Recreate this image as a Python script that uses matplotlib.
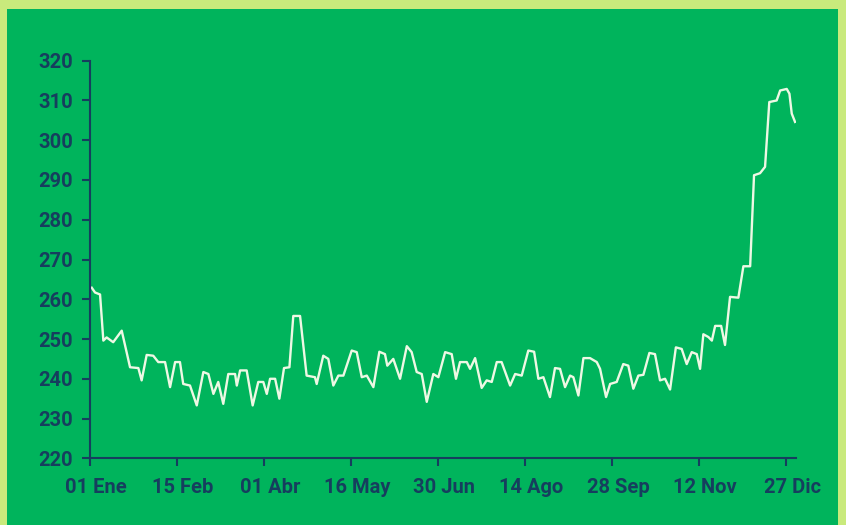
import matplotlib
matplotlib.use("Agg")
import matplotlib.pyplot as plt
import matplotlib.transforms as mtransforms
from matplotlib.patches import Rectangle

# Day of year (0 = 01 Ene) and value
days = [0.9, 2.6, 5.2, 6.9, 8.6, 12.0, 16.4, 20.7, 25.0, 26.7, 29.3, 32.7, 35.3, 38.8,
        41.4, 44.0, 46.5, 48.2, 51.7, 55.2, 58.6, 61.2, 63.8, 66.3, 68.9, 71.5, 75.0,
        75.9, 77.6, 81.0, 84.1, 87.0, 89.6, 91.4, 93.1, 95.7, 97.9, 100.3, 103.1, 105.1,
        108.6, 112.0, 116.3, 117.2, 120.6, 123.2, 125.8, 128.4, 131.0, 135.3, 137.9,
        140.5, 143.1, 146.5, 149.6, 152.5, 153.7, 156.8, 160.3, 163.8, 166.3, 168.9,
        171.5, 174.1, 177.5, 180.1, 183.6, 187.0, 189.2, 191.3, 194.8, 196.5, 199.1,
        202.5, 205.1, 207.7, 210.3, 212.8, 217.2, 219.8, 223.2, 226.6, 229.6, 231.8,
        234.4, 237.8, 240.4, 243.0, 245.6, 248.2, 249.9, 252.5, 255.1, 258.5, 262.0,
        263.7, 266.8, 268.9, 272.3, 275.7, 278.3, 280.9, 283.5, 286.1, 289.2, 292.1,
        294.7, 297.3, 299.9, 302.9, 305.9, 308.5, 311.1, 313.7, 315.4, 317.1, 319.7,
        321.5, 323.2, 326.3, 328.3, 330.9, 335.2, 337.8, 341.3, 343.3, 346.4, 349.0,
        351.2, 355.0, 356.8, 360.2, 361.6, 362.8, 364.5]
values = [262.9, 261.7, 261.2, 249.6, 250.4, 249.2, 252.1, 242.9, 242.7, 239.6, 246.0,
          245.8, 244.2, 244.2, 237.9, 244.2, 244.2, 238.7, 238.3, 233.3, 241.7, 241.2,
          236.2, 239.2, 233.7, 241.2, 241.2, 238.3, 242.1, 242.1, 233.3, 239.2, 239.2,
          236.2, 240.0, 240.0, 235.0, 242.7, 242.9, 255.8, 255.8, 240.8, 240.4, 238.7,
          245.8, 245.0, 238.3, 240.8, 240.8, 247.1, 246.7, 240.4, 240.8, 237.9, 246.8,
          246.2, 243.3, 245.0, 240.0, 248.2, 246.7, 241.7, 241.2, 234.2, 241.2, 240.4,
          246.7, 246.2, 240.0, 244.2, 244.2, 242.5, 245.2, 237.7, 239.6, 239.2, 244.2,
          244.2, 238.3, 241.2, 240.8, 247.1, 246.8, 240.0, 240.4, 235.4, 242.7, 242.5,
          237.9, 240.8, 240.4, 235.8, 245.2, 245.2, 244.2, 242.5, 235.4, 238.7, 239.2,
          243.7, 243.3, 237.5, 240.8, 241.0, 246.5, 246.2, 239.6, 240.0, 237.3, 247.9,
          247.5, 243.7, 246.7, 246.2, 242.5, 251.2, 250.5, 249.6, 253.3, 253.3, 248.5,
          260.6, 260.4, 268.3, 268.3, 291.2, 291.7, 293.3, 309.6, 310.0, 312.5, 312.9,
          311.7, 306.7, 304.6]

tick_days = [0, 45, 90, 135, 180, 225, 270, 315, 360]
tick_labels = ["01 Ene", "15 Feb", "01 Abr", "16 May", "30 Jun", "14 Ago", "28 Sep",
               "12 Nov", "27 Dic"]
y_ticks = list(range(220, 321, 10))

BORDER = "#c9ea7c"
GREEN = "#00b45c"
NAVY = "#163e5e"
LINE = "#eef8e4"

fig = plt.figure(figsize=(8.46, 5.25), dpi=100)
fig.patch.set_facecolor(BORDER)
bg = Rectangle((7 / 846, 0), (838 - 7) / 846, (525 - 9) / 525,
               transform=fig.transFigure, facecolor=GREEN, edgecolor="none", zorder=-10)
fig.add_artist(bg)

ax = fig.add_axes([90 / 846, 66.7 / 525, (796 - 90) / 846, (464.3 - 66.7) / 525])
ax.set_zorder(5)
ax.set_facecolor("none")
ax.plot(days, values, color=LINE, lw=1.7, solid_joinstyle="round")

ax.set_xlim(0, 365)
ax.set_ylim(220, 320)
ax.set_xticks(tick_days)
ax.set_xticklabels(tick_labels)
ax.set_yticks(y_ticks)

for s in ["top", "right"]:
    ax.spines[s].set_visible(False)
for s in ["left", "bottom"]:
    ax.spines[s].set_color(NAVY)
    ax.spines[s].set_linewidth(1.5)

ax.tick_params(axis="both", colors=NAVY, length=6, width=1.5, labelsize=14.5)
ax.tick_params(axis="y", pad=6)
ax.tick_params(axis="x", pad=8)
shift = mtransforms.ScaledTranslation(6 / 100, 0, fig.dpi_scale_trans)
for lab in ax.get_xticklabels():
    lab.set_transform(lab.get_transform() + shift)
for lab in ax.get_xticklabels() + ax.get_yticklabels():
    lab.set_fontfamily("Roboto")
    lab.set_fontweight("bold")
    lab.set_color(NAVY)

fig.savefig("out.png", dpi=100, facecolor=fig.get_facecolor())
